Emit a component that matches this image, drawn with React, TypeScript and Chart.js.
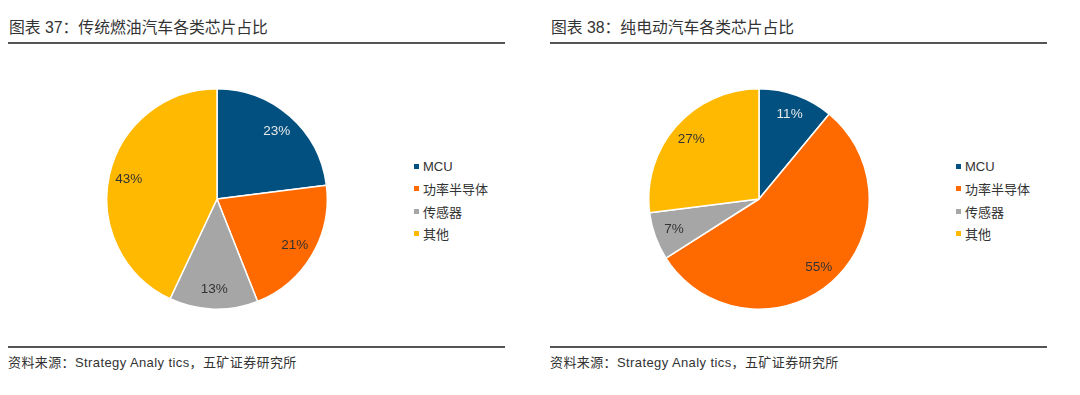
import React, { useEffect, useRef } from "react";
import { Chart, registerables } from "chart.js";

Chart.register(...registerables);

const categories = ["MCU", "功率半导体", "传感器", "其他"];
const iceValues = [23, 21, 13, 43];
const evValues = [11, 55, 7, 27];
const sliceColors = ["#01507F", "#FF6A00", "#A6A6A6", "#FFB900"];
const labelColors = ["#E8E8E8", "#333333", "#333333", "#333333"];
const titleLeft = "图表 37：传统燃油汽车各类芯片占比";
const titleRight = "图表 38：纯电动汽车各类芯片占比";
const sourceText = "资料来源：Strategy Analy tics，五矿证券研究所";

const FONT = '"Liberation Sans", Arial, "Noto Sans CJK SC", sans-serif';

const labelPlugin = {
  id: "sliceLabels",
  afterDatasetsDraw(chart: any) {
    const ctx = chart.ctx;
    const meta = chart.getDatasetMeta(0);
    const data = chart.data.datasets[0].data;
    ctx.save();
    ctx.font = `13.5px ${FONT}`;
    ctx.textAlign = "center";
    ctx.textBaseline = "middle";
    meta.data.forEach((arc: any, i: number) => {
      const p = arc.getProps(["startAngle", "endAngle", "outerRadius", "x", "y"], true);
      const mid = (p.startAngle + p.endAngle) / 2;
      const r = p.outerRadius * 0.82;
      ctx.fillStyle = labelColors[i];
      ctx.fillText(`${data[i]}%`, p.x + Math.cos(mid) * r, p.y + Math.sin(mid) * r);
    });
    ctx.restore();
  },
};

function Pie({ values, left, top }: { values: number[]; left: number; top: number }) {
  const ref = useRef<HTMLCanvasElement>(null);
  useEffect(() => {
    const chart = new Chart(ref.current!, {
      type: "pie",
      data: {
        labels: categories,
        datasets: [
          {
            data: values,
            backgroundColor: sliceColors,
            borderColor: "#ffffff",
            borderWidth: 1.5,
          },
        ],
      },
      options: {
        animation: false,
        responsive: false,
        maintainAspectRatio: false,
        layout: { padding: 0 },
        plugins: { legend: { display: false }, tooltip: { enabled: false } },
      },
      plugins: [labelPlugin],
    });
    return () => chart.destroy();
  }, [values]);
  return (
    <canvas
      ref={ref}
      width={222}
      height={222}
      style={{ position: "absolute", left, top, width: 222, height: 222 }}
    />
  );
}

function Legend({ left, top }: { left: number; top: number }) {
  return (
    <div style={{ position: "absolute", left, top, fontFamily: FONT, fontSize: 13, color: "#333" }}>
      {categories.map((c, i) => (
        <div key={c} style={{ height: 22.5, display: "flex", alignItems: "center" }}>
          <span
            style={{
              display: "inline-block",
              width: 5,
              height: 5,
              background: sliceColors[i],
              marginRight: 4,
            }}
          />
          <span>{c}</span>
        </div>
      ))}
    </div>
  );
}

function Panel({ x, title, values }: { x: number; title: string; values: number[] }) {
  return (
    <>
      <div
        style={{
          position: "absolute",
          left: x + 1,
          top: 18,
          fontFamily: FONT,
          fontSize: 15.8,
          color: "#333",
          whiteSpace: "nowrap",
          lineHeight: "20px",
        }}
      >
        {title}
      </div>
      <div style={{ position: "absolute", left: x, top: 42, width: 497, height: 2, background: "#555" }} />
      <Pie values={values} left={x + 98} top={88} />
      <Legend left={x + 406} top={155} />
      <div style={{ position: "absolute", left: x, top: 346, width: 497, height: 2, background: "#555" }} />
      <div
        style={{
          position: "absolute",
          left: x,
          top: 355,
          fontFamily: FONT,
          fontSize: 13,
          letterSpacing: 0.4,
          color: "#333",
          whiteSpace: "nowrap",
          lineHeight: "16px",
        }}
      >
        {sourceText}
      </div>
    </>
  );
}

export default function App() {
  return (
    <div style={{ position: "absolute", left: 0, top: 0, width: 1080, height: 395, background: "#fff" }}>
      <Panel x={8} title={titleLeft} values={iceValues} />
      <Panel x={550} title={titleRight} values={evValues} />
    </div>
  );
}
